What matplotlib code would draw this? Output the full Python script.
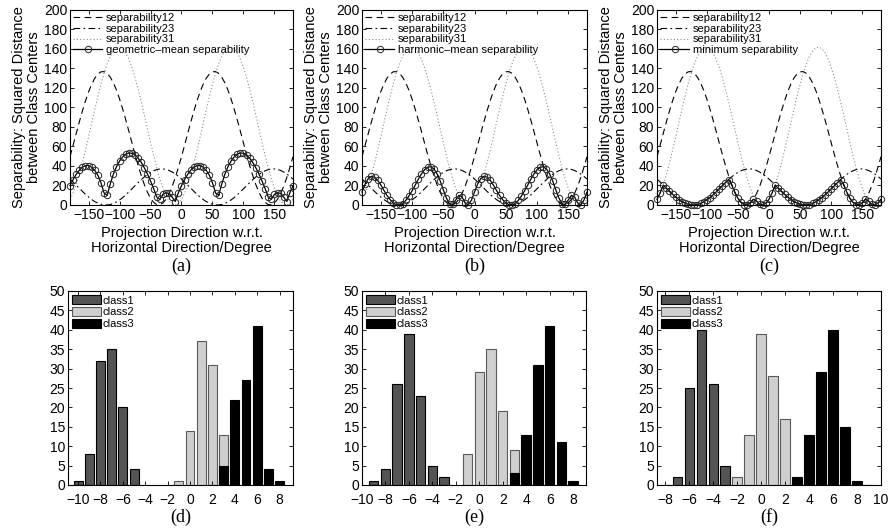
import numpy as np
import matplotlib
matplotlib.use("Agg")
import matplotlib.pyplot as plt

plt.rcParams['font.family'] = ['Liberation Sans', 'DejaVu Sans']

# projection direction in degrees, 5 degree steps
angles = list(range(-180, 181, 5))

# squared distance between projected class centres
sep12 = [49.6, 61.3, 73.3, 85.1, 96.4, 106.8, 116.1, 123.9, 130.1, 134.3, 136.6, 136.8,
         135.0, 131.1, 125.3, 117.8, 108.8, 98.5, 87.4, 75.7, 63.7, 51.9, 40.6, 30.2,
         20.9, 13.1, 6.9, 2.7, 0.4, 0.2, 2.0, 5.9, 11.7, 19.2, 28.2, 38.5,
         49.6, 61.3, 73.3, 85.1, 96.4, 106.8, 116.1, 123.9, 130.1, 134.3, 136.6, 136.8,
         135.0, 131.1, 125.3, 117.8, 108.8, 98.5, 87.4, 75.7, 63.7, 51.9, 40.6, 30.2,
         20.9, 13.1, 6.9, 2.7, 0.4, 0.2, 2.0, 5.9, 11.7, 19.2, 28.2, 38.5, 49.6]
sep23 = [26.6, 23.6, 20.4, 17.2, 14.0, 11.0, 8.2, 5.6, 3.5, 1.9, 0.7, 0.1,
         0.05, 0.5, 1.6, 3.2, 5.2, 7.6, 10.4, 13.4, 16.6, 19.8, 23.0, 26.0,
         28.8, 31.4, 33.5, 35.1, 36.3, 36.9, 37.0, 36.5, 35.4, 33.8, 31.8, 29.4,
         26.6, 23.6, 20.4, 17.2, 14.0, 11.0, 8.2, 5.6, 3.5, 1.9, 0.7, 0.1,
         0.05, 0.5, 1.6, 3.2, 5.2, 7.6, 10.4, 13.4, 16.6, 19.8, 23.0, 26.0,
         28.8, 31.4, 33.5, 35.1, 36.3, 36.9, 37.0, 36.5, 35.4, 33.8, 31.8, 29.4, 26.6]
sep31 = [5.9, 12.3, 20.8, 31.1, 43.0, 56.0, 69.7, 83.8, 97.8, 111.3, 123.9, 135.2,
         144.8, 152.5, 158.0, 161.2, 162.0, 160.2, 156.1, 149.7, 141.2, 130.9, 119.0, 106.0,
         92.3, 78.2, 64.2, 50.7, 38.1, 26.8, 17.2, 9.5, 4.0, 0.8, 0.05, 1.8,
         5.9, 12.3, 20.8, 31.1, 43.0, 56.0, 69.7, 83.8, 97.8, 111.3, 123.9, 135.2,
         144.8, 152.5, 158.0, 161.2, 162.0, 160.2, 156.1, 149.7, 141.2, 130.9, 119.0, 106.0,
         92.3, 78.2, 64.2, 50.7, 38.1, 26.8, 17.2, 9.5, 4.0, 0.8, 0.05, 1.8, 5.9]

# histograms of the projected samples (bin centre, count)
d_pos1, d_cnt1 = [-10, -9, -8, -7, -6, -5], [1, 8, 32, 35, 20, 4]
d_pos2, d_cnt2 = [-1, 0, 1, 2, 3], [1, 14, 37, 31, 13]
d_pos3, d_cnt3 = [3, 4, 5, 6, 7, 8], [5, 22, 27, 41, 4, 1]

e_pos1, e_cnt1 = [-9, -8, -7, -6, -5, -4, -3], [1, 4, 26, 39, 23, 5, 2]
e_pos2, e_cnt2 = [-1, 0, 1, 2, 3], [8, 29, 35, 19, 9]
e_pos3, e_cnt3 = [3, 4, 5, 6, 7, 8], [3, 13, 31, 41, 11, 1]

f_pos1, f_cnt1 = [-8, -7, -6, -5, -4, -3], [0, 2, 25, 40, 26, 5]
f_pos2, f_cnt2 = [-2, -1, 0, 1, 2], [2, 13, 39, 28, 17]
f_pos3, f_cnt3 = [3, 4, 5, 6, 7, 8, 9], [2, 13, 29, 40, 15, 1, 0]

W, H = 893, 528
fig = plt.figure(figsize=(W / 100, H / 100), dpi=100)


def px_axes(left, top, right, bottom):
    return fig.add_axes([left / W, 1 - bottom / H, (right - left) / W, (bottom - top) / H])


def matlab_box(ax, xpad=2):
    ax.tick_params(direction='in', top=True, right=True, length=3, width=0.6,
                   labelsize=10, pad=2)
    ax.tick_params(axis='x', pad=xpad)
    for sp in ax.spines.values():
        sp.set_linewidth(0.8)


a12 = np.array(sep12)
a23 = np.array(sep23)
a31 = np.array(sep31)
combined = [
    ('geometric\u2013mean separability', np.cbrt(a12 * a23 * a31)),
    ('harmonic\u2013mean separability', 3.0 / (1 / a12 + 1 / a23 + 1 / a31)),
    ('minimum separability', np.minimum(np.minimum(a12, a23), a31)),
]
top_boxes = [(70, 293), (362, 587), (657, 881)]
letters_top = ['(a)', '(b)', '(c)']

for (l, r), (name, vals), letter in zip(top_boxes, combined, letters_top):
    ax = px_axes(l, 10, r, 205)
    ax.plot(angles, sep12, color='k', lw=0.8, ls=(0, (6, 4)), label='separability12')
    ax.plot(angles, sep23, color='k', lw=0.8, ls=(0, (6, 3, 1.5, 3)), label='separability23')
    ax.plot(angles, sep31, color='0.55', lw=0.8, ls=(0, (1, 2)), label='separability31')
    ax.plot(angles, vals, color='k', lw=0.9, marker='o', ms=4.6, mfc='none',
            mec='0.15', mew=0.7, label=name, clip_on=False)
    ax.set_xlim(-180, 180)
    ax.set_ylim(0, 200)
    ax.set_xticks([-150, -100, -50, 0, 50, 100, 150])
    ax.set_yticks(range(0, 201, 20))
    matlab_box(ax)
    ax.set_xlabel('Projection Direction w.r.t.\nHorizontal Direction/Degree',
                  fontsize=10.5, labelpad=3, linespacing=1.1)
    ax.set_ylabel('Separability: Squared Distance\nbetween Class Centers',
                  fontsize=10.5, labelpad=2, linespacing=1.1)
    ax.legend(loc='upper left', frameon=False, fontsize=8, handlelength=2.6,
              labelspacing=0.05, borderaxespad=0.2, borderpad=0.1, handletextpad=0.3)
    fig.text((l + r) / 2 / W, 1 - 266 / H, letter, ha='center', va='center',
             fontsize=13, family='Liberation Serif')

hist_panels = [
    ((68, 293), (-10.9, 9.2), range(-10, 9, 2), (d_pos1, d_cnt1), (d_pos2, d_cnt2), (d_pos3, d_cnt3), '(d)'),
    ((362, 586), (-10, 9.1), range(-10, 9, 2), (e_pos1, e_cnt1), (e_pos2, e_cnt2), (e_pos3, e_cnt3), '(e)'),
    ((657, 881), (-8.7, 10), range(-8, 11, 2), (f_pos1, f_cnt1), (f_pos2, f_cnt2), (f_pos3, f_cnt3), '(f)'),
]

for (l, r), xlim, xt, c1, c2, c3, letter in hist_panels:
    ax = px_axes(l, 291, r, 485)
    ax.bar(c1[0], c1[1], width=0.8, color='#545454', edgecolor='k', lw=0.8, label='class1')
    ax.bar(c2[0], c2[1], width=0.8, color='#cfcfcf', edgecolor='#5a5a5a', lw=0.8, label='class2')
    ax.bar(c3[0], c3[1], width=0.8, color='k', edgecolor='k', lw=0.8, label='class3')
    ax.set_xlim(*xlim)
    ax.set_ylim(0, 50)
    ax.set_xticks(list(xt))
    ax.set_yticks(range(0, 51, 5))
    matlab_box(ax, xpad=5.5)
    ax.legend(loc='upper left', frameon=False, fontsize=8, handlelength=2.6,
              handleheight=0.8, labelspacing=0.15, borderaxespad=0.3, borderpad=0.1,
              handletextpad=0.1)
    fig.text((l + r) / 2 / W, 1 - 517 / H, letter, ha='center', va='center',
             fontsize=13, family='Liberation Serif')

fig.savefig('out.png', dpi=100)
